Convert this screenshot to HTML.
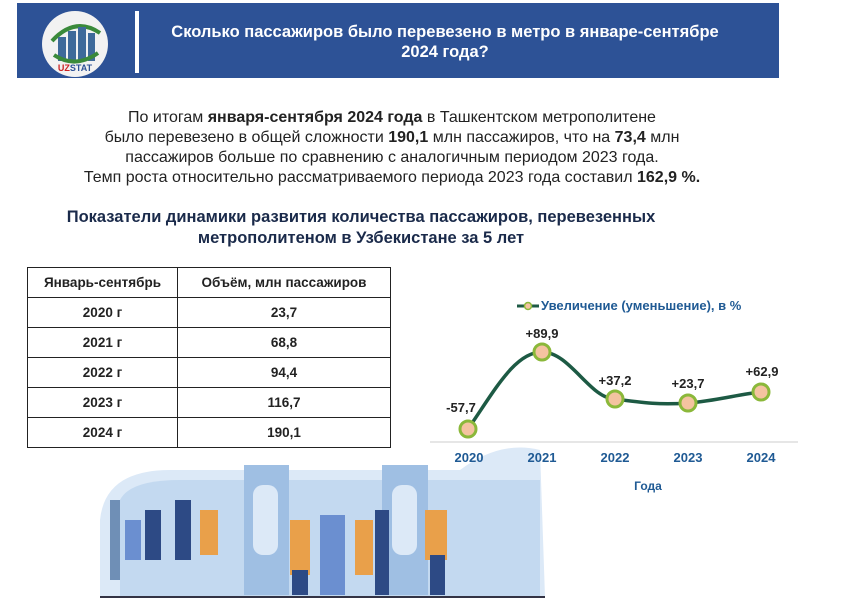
<!DOCTYPE html>
<html><head><meta charset="utf-8"><style>
body{margin:0;width:850px;height:600px;background:#fff;font-family:"Liberation Sans",sans-serif;position:relative;overflow:hidden}
.hdr{position:absolute;left:17px;top:3px;width:762px;height:75px;background:#2d5296}
.logo{position:absolute;left:42px;top:11px;width:66px;height:66px;border-radius:50%;background:#f2f2f2}
.bar{position:absolute;left:135px;top:11px;width:4px;height:62px;background:#fff}
.title{position:absolute;left:140px;top:22px;width:610px;text-align:center;color:#fff;font-weight:bold;font-size:16.5px;line-height:20px}
.intro{position:absolute;left:0px;top:108px;width:784px;text-align:center;font-size:16px;line-height:20px;color:#222}
.sub{position:absolute;left:0px;top:207px;width:722px;text-align:center;font-size:16.5px;font-weight:bold;line-height:21px;color:#1a2a4a}
table{position:absolute;left:27px;top:267px;border-collapse:collapse;font-size:13.5px;font-weight:bold;color:#222;background:#fff}
td{border:1.5px solid #222;height:29px;text-align:center;padding:0}
</style></head><body>
<div class="hdr"></div>
<div class="logo"></div>
<svg style="position:absolute;left:42px;top:11px" width="66" height="66">
<path d="M10 30 Q33 5 58 22" stroke="#3a8a3a" stroke-width="4" fill="none"/>
<rect x="16" y="26" width="8" height="24" fill="#3e6a9a"/><rect x="26" y="20" width="8" height="30" fill="#3e6a9a"/><rect x="36" y="16" width="8" height="34" fill="#3e6a9a"/><rect x="46" y="22" width="7" height="28" fill="#3e6a9a"/>
<path d="M12 44 Q33 58 56 42" stroke="#3a8a3a" stroke-width="4" fill="none"/>
<text x="33" y="60" font-size="9" font-weight="bold" text-anchor="middle" fill="#2d5296" font-family="Liberation Sans"><tspan fill="#c22">UZ</tspan>STAT</text>
</svg>
<div class="bar"></div>
<div class="title">Сколько пассажиров было перевезено в метро в январе-сентябре<br>2024 года?</div>
<div class="intro">По итогам <b>января-сентября 2024 года</b> в Ташкентском метрополитене<br>было перевезено в общей сложности <b>190,1</b> млн пассажиров, что на <b>73,4</b> млн<br>пассажиров больше по сравнению с аналогичным периодом 2023 года.<br>Темп роста относительно рассматриваемого периода 2023 года составил <b>162,9 %.</b></div>
<div class="sub">Показатели динамики развития количества пассажиров, перевезенных<br>метрополитеном в Узбекистане за 5 лет</div>
<svg style="position:absolute;left:0;top:0" width="850" height="600">
<path d="M100 597 L100 520 Q105 470 170 470 L460 470 Q500 440 540 450 L545 597 Z" fill="#dce9f7"/>
<path d="M120 597 L120 500 Q130 480 180 480 L540 480 L540 597 Z" fill="#c3d9f0"/>
<rect x="244" y="465" width="45" height="130" fill="#9fbfe3"/>
<rect x="382" y="465" width="46" height="130" fill="#9fbfe3"/>
<rect x="253" y="485" width="25" height="70" rx="10" fill="#dce9f7"/>
<rect x="392" y="485" width="25" height="70" rx="10" fill="#dce9f7"/>
<rect x="110" y="500" width="10" height="80" fill="#6f8fb6"/>
<g fill="#e9a04a"><rect x="290" y="520" width="20" height="55"/><rect x="355" y="520" width="18" height="55"/><rect x="425" y="510" width="22" height="50"/><rect x="200" y="510" width="18" height="45"/></g>
<g fill="#2d4a85"><rect x="292" y="570" width="16" height="25"/><rect x="375" y="510" width="14" height="85"/><rect x="430" y="555" width="15" height="40"/><rect x="145" y="510" width="16" height="50"/><rect x="175" y="500" width="16" height="60"/></g>
<g fill="#6b8fd0"><rect x="320" y="515" width="25" height="80"/><rect x="125" y="520" width="16" height="40"/></g>
<rect x="100" y="596" width="445" height="2" fill="#334"/>
<line x1="430" y1="442" x2="798" y2="442" stroke="#ddd" stroke-width="1.5"/>
<path d="M468 429 C495 390 515 352 542 352 C570 352 590 399 615 399 C645 403 660 405 688 403 C715 401 740 394 761 392" stroke="#1d5a44" stroke-width="3.5" fill="none"/>
<g fill="#f4c3a0" stroke="#8bb83a" stroke-width="3"><circle cx="468" cy="429" r="8"/><circle cx="542" cy="352" r="8"/><circle cx="615" cy="399" r="8"/><circle cx="688" cy="403" r="8"/><circle cx="761" cy="392" r="8"/></g>
<g font-family="Liberation Sans" font-weight="bold" font-size="13" fill="#222" text-anchor="middle">
<text x="461" y="412">-57,7</text><text x="542" y="338">+89,9</text><text x="615" y="385">+37,2</text><text x="688" y="388">+23,7</text><text x="762" y="376">+62,9</text></g>
<g font-family="Liberation Sans" font-weight="bold" font-size="13" fill="#1f5a94" text-anchor="middle">
<text x="469" y="462">2020</text><text x="542" y="462">2021</text><text x="615" y="462">2022</text><text x="688" y="462">2023</text><text x="761" y="462">2024</text>
<text x="648" y="490" font-size="12">Года</text></g>
<line x1="517" y1="306" x2="539" y2="306" stroke="#1d5a44" stroke-width="3"/><circle cx="528" cy="306" r="3.5" fill="#f4c3a0" stroke="#8bb83a" stroke-width="1.5"/>
<text x="541" y="310" font-family="Liberation Sans" font-weight="bold" font-size="13" fill="#1f5a94">Увеличение (уменьшение), в  %</text>
</svg>
<table>
<tr><td style="width:149px">Январь-сентябрь</td><td style="width:212px">Объём, млн пассажиров</td></tr>
<tr><td>2020 г</td><td>23,7</td></tr>
<tr><td>2021 г</td><td>68,8</td></tr>
<tr><td>2022 г</td><td>94,4</td></tr>
<tr><td>2023 г</td><td>116,7</td></tr>
<tr><td>2024 г</td><td>190,1</td></tr>
</table>
</body></html>
